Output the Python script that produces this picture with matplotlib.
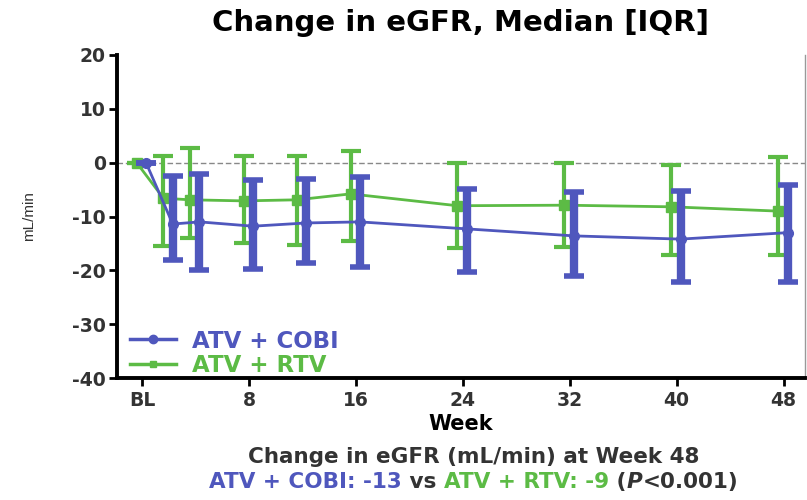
import numpy as np
import matplotlib.pyplot as plt
from matplotlib.lines import Line2D

# weeks of follow-up (0 = baseline)
weeks = [0, 2, 4, 8, 12, 16, 24, 32, 40, 48]
week_ticks = [0, 8, 16, 24, 32, 40, 48]
week_labels = ['BL', '8', '16', '24', '32', '40', '48']

# change in eGFR, mL/min: median with 25th / 75th percentiles
cobi_median = [0, -11.4, -11.0, -11.8, -11.2, -11.0, -12.3, -13.6, -14.2, -13]
cobi_q1 = [0, -18.1, -20.0, -19.8, -18.7, -19.4, -20.4, -21.1, -22.2, -22.1]
cobi_q3 = [0, -2.4, -2.1, -3.2, -3.0, -2.6, -4.9, -5.4, -5.2, -4.1]

rtv_median = [0, -6.6, -6.9, -7.1, -6.9, -5.8, -8.0, -7.9, -8.2, -9]
rtv_q1 = [0, -15.5, -14.0, -15.0, -15.3, -14.6, -15.9, -15.7, -17.2, -17.2]
rtv_q3 = [0, 1.3, 2.8, 1.3, 1.3, 2.2, 0.0, 0.0, -0.5, 1.1]

BLUE = '#4f57bd'
GREEN = '#5cbb45'
DARK = '#333333'
plt.rcParams['font.family'] = ['DejaVu Sans']
plt.rcParams['axes.unicode_minus'] = False


def draw_series(ax, shift, med, q1, q3, color, marker, lw_err, cap_w, z):
    x = np.array(weeks, dtype=float) + shift
    med = np.array(med)
    yerr = [med - np.array(q1), np.array(q3) - med]
    ax.errorbar(x, med, yerr=yerr, color=color, marker=marker, markersize=7,
                linewidth=2, elinewidth=lw_err, capsize=7, capthick=cap_w,
                zorder=z)


fig = plt.figure(figsize=(8.07, 5.0), dpi=100)
ax = fig.add_axes([0.145, 0.244, 0.8525, 0.646])

ax.axhline(0, color='#888888', linewidth=1, linestyle=(0, (4, 2)), zorder=1)
draw_series(ax, -0.4, rtv_median, rtv_q1, rtv_q3, GREEN, 's', 3, 3, 3)
draw_series(ax, 0.3, cobi_median, cobi_q1, cobi_q3, BLUE, 'o', 6, 4, 4)

ax.set_xlim(-1.87, 49.6)
ax.set_ylim(-40, 20)
ax.set_yticks([20, 10, 0, -10, -20, -30, -40])
ax.set_xticks(week_ticks)
ax.set_xticklabels(week_labels)

for side in ['left', 'bottom']:
    ax.spines[side].set_linewidth(2.8)
ax.spines['top'].set_visible(False)
ax.spines['right'].set_color('#999999')
ax.spines['right'].set_linewidth(1)
ax.tick_params(axis='both', direction='out', length=6, width=2,
               labelsize=13.5, labelcolor=DARK)
ax.tick_params(axis='x', pad=3)
ax.tick_params(axis='y', pad=2)
for lab in ax.get_xticklabels() + ax.get_yticklabels():
    lab.set_fontweight('bold')

ax.set_ylabel('mL/min', fontsize=11, color=DARK, labelpad=26,
              family='Liberation Sans')
ax.set_xlabel('Week', fontsize=15, fontweight='bold', labelpad=3)
ax.set_title('Change in eGFR, Median [IQR]', fontsize=21, fontweight='bold',
             pad=17)

# legend with plain line + marker handles
handles = [Line2D([], [], color=BLUE, marker='o', markersize=6, linewidth=2.5),
           Line2D([], [], color=GREEN, marker='s', markersize=5, linewidth=2.5)]
ax.legend(handles, ['ATV + COBI', 'ATV + RTV'], loc='lower left',
          bbox_to_anchor=(0.012, -0.01), frameon=False,
          prop={'size': 16.5, 'weight': 'bold'},
          handlelength=2.0, handletextpad=0.7, labelspacing=0.05,
          borderaxespad=0.1, borderpad=0.1, labelcolor='linecolor')

fig.text(0.587, 0.086, 'Change in eGFR (mL/min) at Week 48', ha='center',
         va='center', fontsize=15.5, fontweight='bold', color=DARK)

# summary line made of coloured pieces
pieces = [('ATV + COBI: -13', BLUE, 'normal'), (' vs ', DARK, 'normal'),
          ('ATV + RTV: -9', GREEN, 'normal'), (' (', DARK, 'normal'),
          ('P', DARK, 'italic'), ('<0.001)', DARK, 'normal')]
fig.canvas.draw()
renderer = fig.canvas.get_renderer()
texts = []
for s, c, st in pieces:
    t = fig.text(0, 0.036, s, fontsize=15.5, fontweight='bold', color=c,
                 style=st, va='center')
    texts.append(t)
widths = [t.get_window_extent(renderer).width for t in texts]
x0 = 0.587 * fig.bbox.width - sum(widths) / 2
for t, w in zip(texts, widths):
    t.set_x(x0 / fig.bbox.width)
    x0 += w

fig.savefig('out.png', dpi=100)
